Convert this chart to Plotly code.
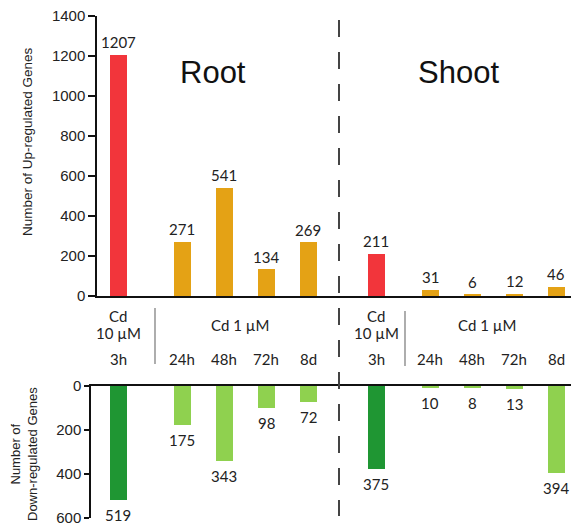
import plotly.graph_objects as go

# ---- data ----
time_labels = ["3h", "24h", "48h", "72h", "8d"]
root_up = [1207, 271, 541, 134, 269]
shoot_up = [211, 31, 6, 12, 46]
root_down = [519, 175, 343, 98, 72]
shoot_down = [375, 10, 8, 13, 394]
tissues = ["Root", "Shoot"]
dose_high = ["Cd", "10 µM"]
dose_low = "Cd 1 µM"

# ---- colours ----
RED = "#F2353B"
ORANGE = "#E4A215"
DGREEN = "#1F9633"
LGREEN = "#8FD14F"

W, H = 579, 528
OFF = 8          # page body margin in the viewer
PX = 42.0        # pixels per slot unit


def px2x(p):
    """screen pixel (x) -> data units of slot axis"""
    return (p - 118) / PX


def py(p):
    """screen pixel (y) -> paper fraction"""
    return 1 - (p - OFF) / H


def pxp(p):
    """screen pixel (x) -> paper fraction"""
    return (p - OFF) / W


# slot positions (layout), in slot units
root_pos = [0.0] + [64 / PX + i for i in range(4)]
shoot_start = (376 - 118) / PX
shoot_pos = [shoot_start] + [shoot_start + 54 / PX + i for i in range(4)]
positions = root_pos + shoot_pos

up_vals = root_up + shoot_up
down_vals = root_down + shoot_down
up_cols = [RED] + [ORANGE] * 4 + [RED] + [ORANGE] * 4
down_cols = [DGREEN] + [LGREEN] * 4 + [DGREEN] + [LGREEN] * 4

fig = go.Figure()
bw = 17 / PX
fig.add_trace(go.Bar(x=positions, y=up_vals, marker=dict(color=up_cols, line=dict(width=0)),
                     width=bw, xaxis="x", yaxis="y", hoverinfo="skip"))
fig.add_trace(go.Bar(x=positions, y=down_vals, marker=dict(color=down_cols, line=dict(width=0)),
                     width=bw, xaxis="x2", yaxis="y2", hoverinfo="skip"))

LBL = dict(family="Lato, Liberation Sans, sans-serif", size=15, color="#222")
ann = []
for x, v in zip(positions, up_vals):
    ann.append(dict(x=x, y=v, xref="x", yref="y", text=str(v), showarrow=False,
                    yanchor="middle", yshift=12.5, font=LBL))
for x, v in zip(positions, down_vals):
    ann.append(dict(x=x, y=v, xref="x2", yref="y2", text=str(v), showarrow=False,
                    yanchor="middle", yshift=-15, font=LBL))

# middle labels
for grp in (root_pos, shoot_pos):
    ann.append(dict(x=grp[0], y=py(316), xref="x", yref="paper", text=dose_high[0],
                    showarrow=False, font=LBL, yanchor="middle"))
    ann.append(dict(x=grp[0], y=py(333), xref="x", yref="paper", text=dose_high[1],
                    showarrow=False, font=LBL, yanchor="middle"))
    for x, t in zip(grp, time_labels):
        ann.append(dict(x=x, y=py(359), xref="x", yref="paper", text=t,
                        showarrow=False, font=LBL, yanchor="middle"))
ann.append(dict(x=px2x(240), y=py(325), xref="x", yref="paper", text=dose_low,
                showarrow=False, font=LBL, yanchor="middle"))
ann.append(dict(x=px2x(487), y=py(325), xref="x", yref="paper", text=dose_low,
                showarrow=False, font=LBL, yanchor="middle"))

TF = dict(family="Liberation Sans, Arial, sans-serif", size=31, color="#111")
ann.append(dict(x=px2x(213), y=py(72), xref="x", yref="paper", text=tissues[0],
                showarrow=False, font=TF, yanchor="middle"))
ann.append(dict(x=px2x(458), y=py(72), xref="x", yref="paper", text=tissues[1],
                showarrow=False, font=TF, yanchor="middle"))

AF = dict(family="Liberation Sans, Arial, sans-serif", size=13.5, color="#222")
ann.append(dict(x=pxp(27), y=py(142), xref="paper", yref="paper",
                text="Number of Up-regulated Genes", textangle=-90, showarrow=False,
                font=AF, xanchor="center", yanchor="middle"))
AF2 = dict(AF, size=13)
ann.append(dict(x=pxp(24), y=py(454), xref="paper", yref="paper",
                text="Number of<br>Down-regulated Genes", textangle=-90, showarrow=False,
                font=AF2, xanchor="center", yanchor="middle"))

shapes = [
    dict(type="line", xref="x", yref="paper", x0=px2x(339), x1=px2x(339),
         y0=py(20), y1=py(516), line=dict(color="#444", width=2, dash="17px,15px")),
    dict(type="line", xref="x", yref="paper", x0=px2x(155), x1=px2x(155),
         y0=py(308), y1=py(364), line=dict(color="#777", width=1.2)),
    dict(type="line", xref="x", yref="paper", x0=px2x(405), x1=px2x(405),
         y0=py(311), y1=py(366), line=dict(color="#777", width=1.2)),
]

TICKF = dict(family="Liberation Sans, Arial, sans-serif", size=15, color="#222")
RIGHT = W + OFF  # screen x of the figure's right edge
fig.update_layout(
    template="none",
    width=W, height=H, margin=dict(l=0, r=0, t=0, b=0, autoexpand=False),
    paper_bgcolor="white", plot_bgcolor="white", showlegend=False,
    bargap=0,
    xaxis=dict(domain=[pxp(97), 1], range=[px2x(97), px2x(RIGHT)], showgrid=False,
               zeroline=False, showline=True, linecolor="#111", linewidth=1.5,
               showticklabels=False, ticks="", anchor="y", automargin=False),
    yaxis=dict(domain=[py(296), py(16)], range=[0, 1400], tickvals=list(range(0, 1401, 200)),
               showgrid=False, zeroline=False, showline=True, linecolor="#111", linewidth=1.5,
               ticks="outside", ticklen=7, tickcolor="#111", tickwidth=1.5,
               tickfont=TICKF, anchor="x", automargin=False, ticklabeloverflow="allow"),
    xaxis2=dict(domain=[pxp(91), 1], range=[px2x(91), px2x(RIGHT)], showgrid=False,
                zeroline=False, showline=True, linecolor="#111", linewidth=1.5,
                showticklabels=False, ticks="", anchor="y2", side="top", automargin=False),
    yaxis2=dict(domain=[py(518), py(386)], range=[600, 0], tickvals=[0, 200, 400, 600],
                showgrid=False, zeroline=False, showline=True, linecolor="#111", linewidth=1.5,
                ticks="outside", ticklen=5, tickcolor="#111", tickwidth=1.5,
                tickfont=TICKF, anchor="x2", automargin=False, ticklabeloverflow="allow"),
    annotations=ann, shapes=shapes,
)

fig.write_html("out.html")
